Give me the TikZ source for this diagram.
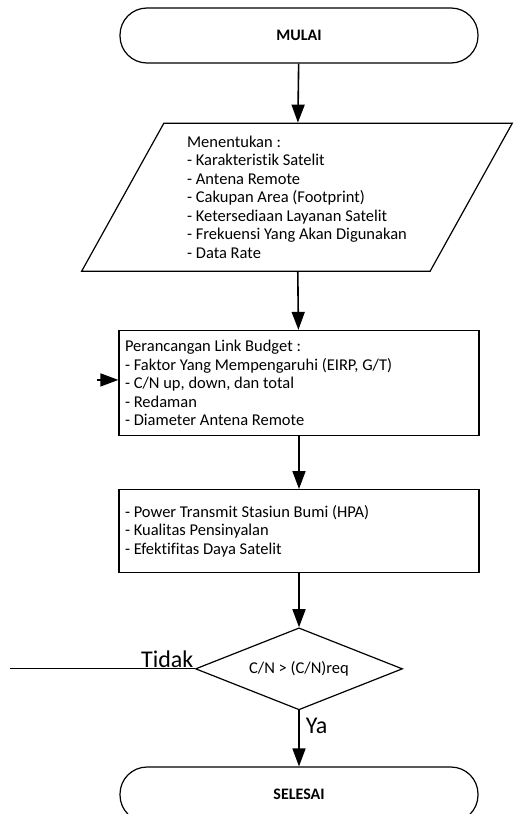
\documentclass[tikz,border=0pt]{standalone}
\usepackage{fontspec}
\setmainfont{Carlito}[Ligatures=NoCommon]
\usetikzlibrary{positioning, arrows.meta, calc, shapes.geometric}

\tikzset{
  terminal/.style={draw, line width=1.2pt, rounded corners=27pt, minimum width=358pt, minimum height=55pt, font=\fontsize{16}{18}\selectfont\bfseries},
  kotak/.style={draw, line width=1.2pt, text width=348pt, inner xsep=6pt, align=flush left, font=\fontsize{16.5}{18.5}\selectfont},
  jajar/.style={draw, line width=1.2pt, trapezium, trapezium left angle=61.6, trapezium right angle=118.4, trapezium stretches=true, minimum width=433pt, minimum height=148pt, align=left, font=\fontsize{16.5}{18.5}\selectfont},
  keputusan/.style={draw, line width=1.2pt, diamond, aspect=2.52, minimum width=207pt, minimum height=82pt, inner sep=0pt, font=\fontsize{16.5}{18.5}\selectfont},
  panah/.style={-{Triangle[length=18pt,width=13pt]}, line width=1.6pt},
  teks/.style={font=\fontsize{24}{28}\selectfont, inner sep=1pt}
}

\begin{document}
\begin{tikzpicture}
\useasboundingbox (0,0) rectangle (514pt,-814pt);
\node[terminal](mulai) at (299pt,-35.5pt){MULAI};
\node[jajar](tentukan)[below = 59pt of mulai, xshift=-2pt]{Menentukan :\\- Karakteristik Satelit\\- Antena Remote\\- Cakupan Area (Footprint)\\- Ketersediaan Layanan Satelit\\- Frekuensi Yang Akan Digunakan\\- Data Rate};
\node[kotak, minimum height=105pt](link)[below = 58pt of tentukan, xshift=2pt]{Perancangan Link Budget :\\- Faktor Yang Mempengaruhi (EIRP, G/T)\\- C/N up, down, dan total\\- Redaman\\- Diameter Antena Remote};
\node[kotak, minimum height=83pt](power)[below = 53pt of link]{- Power Transmit Stasiun Bumi (HPA)\\- Kualitas Pensinyalan\\- Efektifitas Daya Satelit};
\node[keputusan](cek)[below = 54pt of power]{C/N > (C/N)req};
\node[terminal](selesai)[below = 56pt of cek]{SELESAI};
\coordinate(balik) at ([xshift=-184.5pt]cek.west);
\coordinate(masuk) at ([xshift=-21pt, yshift=3pt]link.west);
\draw[panah] (mulai) -- (tentukan);
\draw[panah] (tentukan) -- (link);
\draw[panah] (link) -- (power);
\draw[panah] (power) -- (cek);
\draw[panah] (cek) -- node[teks, pos=0, anchor=north west, xshift=5pt, yshift=-6pt]{Ya} (selesai);
\draw[line width=1pt] (cek.west) -- node[teks, pos=0, anchor=south east]{Tidak} (balik);
\draw[panah] (masuk) -- (masuk -| link.west);
\end{tikzpicture}
\end{document}
